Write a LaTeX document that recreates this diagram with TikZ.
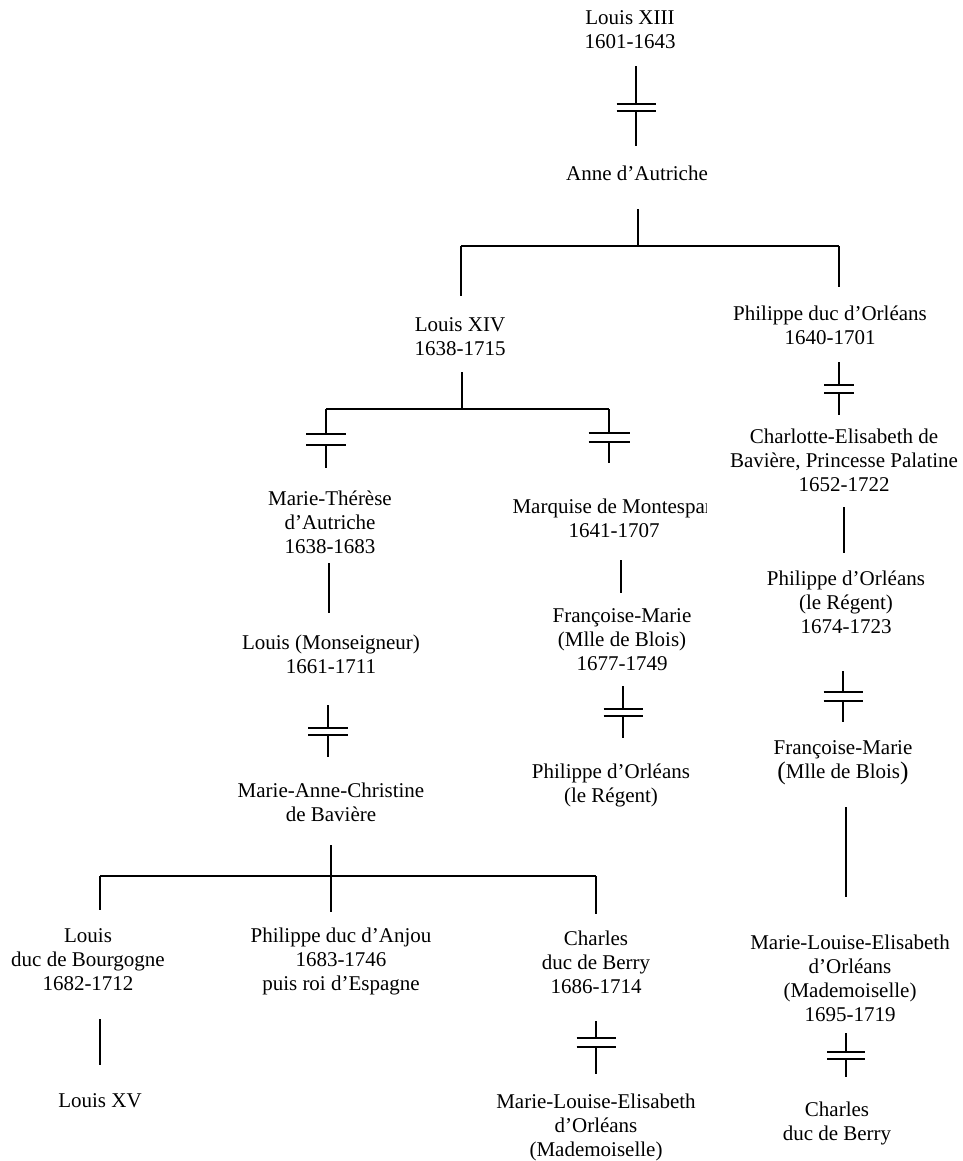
\documentclass[tikz,border=0pt]{standalone}
\usepackage{fontspec}
\setmainfont{Liberation Serif}
\newcommand\wedline[7]{% name, x, top, bar1, bar2, bottom, half width
  \coordinate (#1t) at (#2,#3);
  \coordinate (#1a) at (#2,#4);
  \coordinate (#1b) at (#2,#5);
  \coordinate (#1e) at (#2,#6);
  \coordinate (#1al) at (#2-#7,#4);
  \coordinate (#1ar) at (#2+#7,#4);
  \coordinate (#1bl) at (#2-#7,#5);
  \coordinate (#1br) at (#2+#7,#5);
  \draw[ln] (#1t) -- (#1a) (#1al) -- (#1ar) (#1bl) -- (#1br) (#1b) -- (#1e);}
\newcommand\bigpar[1]{{\fontsize{19}{18}\selectfont\raisebox{-1pt}{#1}}}
\begin{document}
\begin{tikzpicture}[x=0.75pt,y=-0.75pt,
  lbl/.style={align=center,inner sep=0pt,font=\fontsize{15.75}{18}\selectfont},
  ln/.style={line width=1.2pt}]
\useasboundingbox (0,0) rectangle (963,1161);
\fill[white] (0,0) rectangle (963,1161);

% ---- nodes ----
\node[lbl] (l13) at (630,30) {Louis XIII\\1601-1643};
\node[lbl] (anne) at (637,173) {Anne d’Autriche};
\node[lbl] (l14) at (460,337) {Louis XIV\\1638-1715};
\node[lbl] (pho) at (830,325) {Philippe duc d’Orléans\\1640-1701};
\node[lbl] (mt) at (330,522) {Marie-Thérèse\\d’Autriche\\1638-1683};
\begin{scope}
  \clip (480,480) rectangle (706,560);
  \node[lbl] (mm) at (614,518) {Marquise de Montespan\\1641-1707};
\end{scope}
\node[lbl] (ceb) at (844,460) {Charlotte-Elisabeth de\\Bavière, Princesse Palatine\\1652-1722};
\node[lbl] (lm) at (331,654) {Louis (Monseigneur)\\1661-1711};
\node[lbl] (fm1) at (622,640) {Françoise-Marie\\(Mlle de Blois)\\1677-1749};
\node[lbl] (pr2) at (846,602) {Philippe d’Orléans\\(le Régent)\\1674-1723};
\node[lbl] (mac) at (331,802) {Marie-Anne-Christine\\de Bavière};
\node[lbl] (pr1) at (611,785) {Philippe d’Orléans\\(le Régent)};
\node[lbl] (fm2) at (843,763) {Françoise-Marie\\\bigpar{(}Mlle de Blois\bigpar{)}};
\node[lbl] (ldb) at (88,960) {Louis\\duc de Bourgogne\\1682-1712};
\node[lbl] (pda) at (341,961) {Philippe duc d’Anjou\\1683-1746\\puis roi d’Espagne};
\node[lbl] (cdb1) at (596,962) {Charles\\duc de Berry\\1686-1714};
\node[lbl] (mle2) at (850,978) {Marie-Louise-Elisabeth\\d’Orléans\\(Mademoiselle)\\1695-1719};
\node[lbl] (lxv) at (100,1101) {Louis XV};
\node[lbl] (mle1) at (596,1127) {Marie-Louise-Elisabeth\\d’Orléans\\(Mademoiselle)};
\node[lbl] (cdb2) at (837,1123) {Charles\\duc de Berry};

% ---- marriages ----
\wedline{w1}{636}{66}{104}{111}{146}{19.5}
\wedline{w2}{326}{409}{434}{445}{468}{20}
\wedline{w3}{609}{409}{433}{442}{463}{20.5}
\wedline{w4}{328}{705}{728}{735}{757}{20}
\wedline{w5}{596}{1021}{1038}{1047}{1074}{19.5}
\wedline{w6}{623}{686}{709}{716}{738}{19.5}
\wedline{w7}{839}{362}{385}{393}{415}{15}
\wedline{w8}{843}{671}{692}{701}{722}{19.5}
\wedline{w9}{846}{1033}{1052}{1059}{1077}{19}

% ---- descent lines ----
\coordinate (a0) at (638,209);
\coordinate (a1) at (638,246);
\coordinate (aL) at (461,246);
\coordinate (aR) at (839,246);
\coordinate (aLe) at (461,296);
\coordinate (aRe) at (839,287);
\draw[ln] (a0) -- (a1) (aL) -- (aR) (aL) -- (aLe) (aR) -- (aRe);

\coordinate (b0) at (462,372);
\coordinate (b1) at (462,409);
\draw[ln] (b0) -- (b1) (w2t) -- (w3t);

\coordinate (c0) at (329,563);
\coordinate (c1) at (329,613);
\draw[ln] (c0) -- (c1);

\coordinate (d0) at (331,845);
\coordinate (d1) at (331,912);
\coordinate (dL) at (100,876);
\coordinate (dR) at (596,876);
\coordinate (dLe) at (100,910);
\coordinate (dRe) at (596,914);
\draw[ln] (d0) -- (d1) (dL) -- (dR) (dL) -- (dLe) (dR) -- (dRe);

\coordinate (e0) at (100,1019);
\coordinate (e1) at (100,1065);
\draw[ln] (e0) -- (e1);

\coordinate (f0) at (621,560);
\coordinate (f1) at (621,593);
\draw[ln] (f0) -- (f1);

\coordinate (g0) at (844,507);
\coordinate (g1) at (844,553);
\draw[ln] (g0) -- (g1);

\coordinate (h0) at (846,807);
\coordinate (h1) at (846,897);
\draw[ln] (h0) -- (h1);
\end{tikzpicture}
\end{document}
